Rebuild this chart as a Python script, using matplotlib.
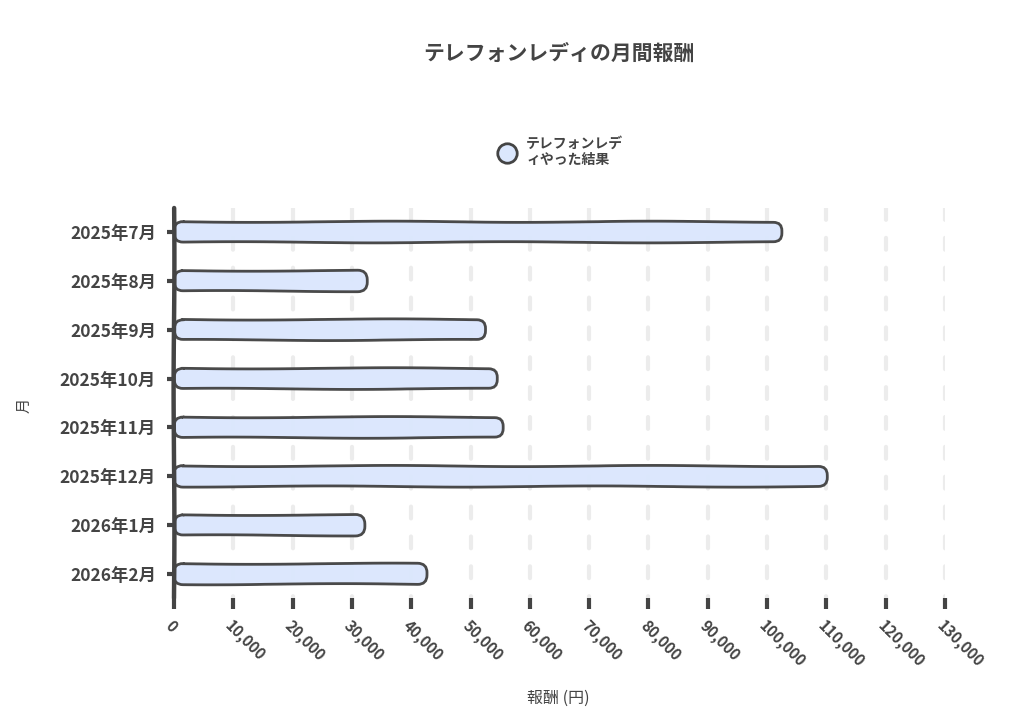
import matplotlib
matplotlib.use("Agg")
import matplotlib.pyplot as plt
from matplotlib.patches import FancyBboxPatch
from matplotlib.lines import Line2D
from matplotlib.ticker import FuncFormatter

plt.rcParams["font.family"] = ["Noto Sans CJK JP", "DejaVu Sans"]
plt.rcParams["lines.scale_dashes"] = False

# data
months = ["2025年7月", "2025年8月", "2025年9月", "2025年10月",
          "2025年11月", "2025年12月", "2026年1月", "2026年2月"]
rewards = [102600, 32500, 52600, 54600, 55600, 110200, 32100, 42600]
x_ticks = list(range(0, 130001, 10000))

title = "テレフォンレディの月間報酬"
series_label = "テレフォンレデ\nィやった結果"
x_label = "報酬 (円)"
y_label = "月"

INK = "#444444"
FILL = "#dbe7fd"
GRID = "#ececec"

W, H = 1024, 727
fig = plt.figure(figsize=(W / 100, H / 100), dpi=100)
ax_l, ax_r, ax_t, ax_b = 174, 945, 207.6, 598.4
ax = fig.add_axes([ax_l / W, 1 - ax_b / H, (ax_r - ax_l) / W, (ax_b - ax_t) / H])

ax.set_xlim(0, 130000)
ax.set_ylim(len(months) - 0.5, -0.5)

# gridlines
for xv in x_ticks[1:]:
    ax.plot([xv, xv], [-0.5, len(months) - 0.5], color=GRID, lw=3.0,
            dashes=(8.5, 13), solid_capstyle="round", dash_capstyle="round", zorder=1)

# rounded, slightly wobbly bars
px_x = 130000 / (ax_r - ax_l)
px_y = len(months) / (ax_b - ax_t)
bar_h = 0.42
for i, v in enumerate(rewards):
    p = FancyBboxPatch((0, i - bar_h / 2), v, bar_h,
                       boxstyle=f"round,pad=0,rounding_size={9 * px_x:.0f}",
                       mutation_aspect=px_y / px_x,
                       facecolor=FILL, edgecolor=INK, linewidth=2.0, zorder=3,
                       alpha=0.97)
    p.set_sketch_params(scale=0.6, length=300, randomness=2)
    ax.add_patch(p)

for side in ["top", "right", "bottom"]:
    ax.spines[side].set_visible(False)
ax.spines["left"].set_color(INK)
ax.spines["left"].set_linewidth(3.2)
ax.spines["left"].set_capstyle("round")
ax.spines["left"].set_zorder(5)
ax.spines["left"].set_sketch_params(scale=0.4, length=300, randomness=2)

ax.set_yticks(range(len(months)))
ax.set_yticklabels(months, fontsize=12.5, fontweight="bold", color=INK)
ax.tick_params(axis="y", length=5, width=3, color=INK, pad=8)

ax.set_xticks(x_ticks)
ax.xaxis.set_major_formatter(FuncFormatter(lambda v, _: f"{int(v):,}"))
ax.tick_params(axis="x", length=8, width=3, color=INK, pad=6)
for lab in ax.get_xticklabels():
    lab.set_rotation(-45)
    lab.set_ha("left")
    lab.set_va("top")
    lab.set_rotation_mode("anchor")
    lab.set_fontsize(11)
    lab.set_fontweight("bold")
    lab.set_color(INK)

fig.text(559 / W, 1 - 53 / H, title, ha="center", va="center",
         fontsize=15, fontweight="bold", color=INK)
fig.text(558 / W, 1 - 698 / H, x_label, ha="center", va="center",
         fontsize=11.5, color=INK)
fig.text(24 / W, 1 - 405 / H, y_label, ha="center", va="center",
         fontsize=11, color=INK, rotation=90)

handle = Line2D([], [], marker="o", linestyle="none", markersize=14,
                markerfacecolor=FILL, markeredgecolor=INK, markeredgewidth=2)
fig.legend([handle], [series_label], loc="center", bbox_to_anchor=(558 / W, 1 - 152 / H),
           frameon=False, labelcolor=INK, handletextpad=0.4,
           prop={"weight": "bold", "size": 10})

fig.savefig("out.png", dpi=100)
